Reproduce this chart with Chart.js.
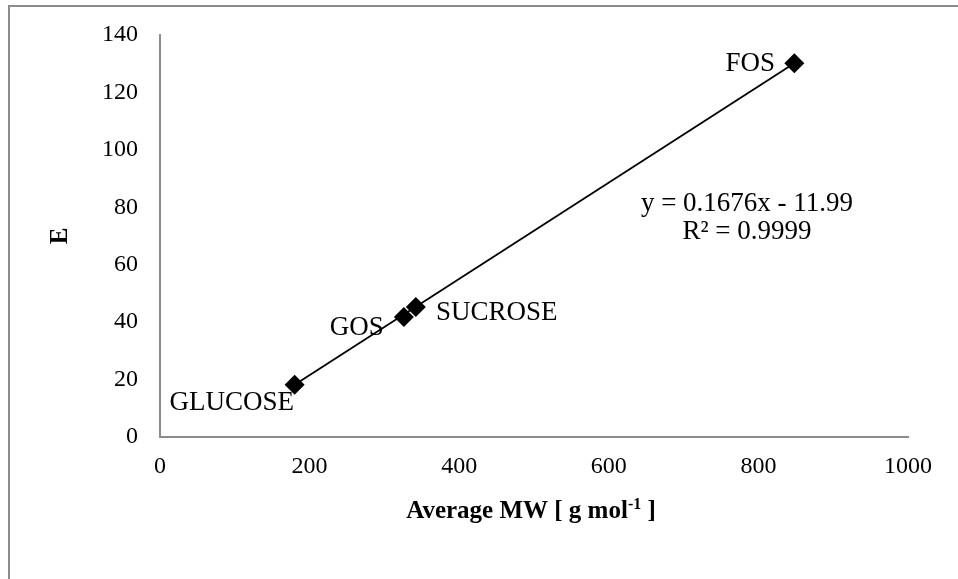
<!DOCTYPE html>
<html>
<head>
<meta charset="utf-8">
<script src="https://cdn.jsdelivr.net/npm/chart.js@4.4.1/dist/chart.umd.min.js"></script>
<style>
html,body{margin:0;padding:0;background:#fff;}
#wrap{width:958px;height:579px;position:relative;}
</style>
</head>
<body>
<div id="wrap"><canvas id="c" width="958" height="579"></canvas></div>
<script>
// ---- data ----
const sugars = ["GLUCOSE", "GOS", "SUCROSE", "FOS"];
const avgMW = [180, 326, 342, 848];
const eValues = [18.2, 41.8, 45.3, 130.2];
const trendSlope = 0.1676;
const trendIntercept = -11.99;
const trendText = ["y = 0.1676x - 11.99", "R\u00B2 = 0.9999"];
const xTicks = [0, 200, 400, 600, 800, 1000];
const yTicks = [0, 20, 40, 60, 80, 100, 120, 140];

const serif = "'Liberation Serif', 'Times New Roman', serif";
const points = avgMW.map((x, i) => ({x: x, y: eValues[i]}));
const xMin = Math.min(...avgMW), xMax = Math.max(...avgMW);
const trend = [xMin, xMax].map(x => ({x: x, y: trendSlope * x + trendIntercept}));

// label offsets (pixels) relative to point
const labelOffsets = {GLUCOSE: [-63, 18], GOS: [-47, 11], SUCROSE: [81, 6], FOS: [-44, 1]};

const overlay = {
  id: 'overlay',
  afterDraw(chart) {
    const ctx = chart.ctx;
    const xs = chart.scales.x, ys = chart.scales.y;
    ctx.save();
    // outer frame (top & left visible)
    ctx.strokeStyle = '#8c8c8c';
    ctx.lineWidth = 2;
    ctx.beginPath();
    ctx.moveTo(9, 580); ctx.lineTo(9, 6); ctx.lineTo(960, 6);
    ctx.stroke();
    // point labels
    ctx.fillStyle = '#000';
    ctx.font = "27px " + serif;
    ctx.textBaseline = 'middle';
    ctx.textAlign = 'center';
    sugars.forEach((s, i) => {
      const o = labelOffsets[s];
      ctx.fillText(s, xs.getPixelForValue(avgMW[i]) + o[0], ys.getPixelForValue(eValues[i]) + o[1]);
    });
    // equation
    ctx.fillText(trendText[0], 747, 204);
    ctx.fillText(trendText[1], 747, 232);
    // axis titles
    const big = "bold 25px " + serif, small = "bold 16px " + serif;
    const main = "Average MW [ g mol", sup = "-1", tail = " ]";
    ctx.font = big;
    const w1 = ctx.measureText(main).width;
    const w3 = ctx.measureText(tail).width;
    ctx.font = small;
    const w2 = ctx.measureText(sup).width;
    const cx = (xs.left + xs.right) / 2 - 3;
    let sx = cx - (w1 + w2 + w3) / 2;
    const ty = 518;
    ctx.textAlign = 'left';
    ctx.textBaseline = 'alphabetic';
    ctx.font = big;
    ctx.fillText(main, sx, ty);
    ctx.font = small;
    ctx.fillText(sup, sx + w1, ty - 9);
    ctx.font = big;
    ctx.fillText(tail, sx + w1 + w2, ty);
    // y title
    ctx.translate(61, (ys.top + ys.bottom) / 2);
    ctx.rotate(-Math.PI / 2);
    ctx.textAlign = 'center';
    ctx.textBaseline = 'middle';
    ctx.fillText("E", 0, 0);
    ctx.restore();
  }
};

new Chart(document.getElementById('c'), {
  type: 'scatter',
  data: {
    datasets: [
      {
        label: 'trend',
        data: trend,
        showLine: true,
        borderColor: '#000',
        borderWidth: 1.8,
        pointRadius: 0,
        order: 2
      },
      {
        label: 'E',
        data: points,
        pointStyle: 'rectRot',
        pointRadius: 10,
        backgroundColor: '#000',
        borderColor: '#000',
        borderWidth: 0,
        order: 1
      }
    ]
  },
  options: {
    responsive: false,
    animation: false,
    layout: {padding: {left: 10, right: 50, top: 35, bottom: 0}},
    plugins: {legend: {display: false}, tooltip: {enabled: false}},
    scales: {
      x: {
        type: 'linear', min: 0, max: 1000,
        afterBuildTicks(s) { s.ticks = xTicks.map(v => ({value: v})); },
        afterFit(s) { s.height = 142; },
        grid: {display: false, drawOnChartArea: false, drawTicks: true, tickLength: 7, tickColor: '#8c8c8c', tickWidth: 2},
        border: {color: '#8c8c8c', width: 2},
        ticks: {color: '#000', font: {family: serif, size: 24}, padding: 8, maxRotation: 0, callback: v => String(v)}
      },
      y: {
        type: 'linear', min: 0, max: 140,
        afterBuildTicks(s) { s.ticks = yTicks.map(v => ({value: v})); },
        afterFit(s) { s.width = 150; },
        grid: {display: false, drawOnChartArea: false, drawTicks: true, tickLength: 7, tickColor: '#8c8c8c', tickWidth: 2},
        border: {color: '#8c8c8c', width: 2},
        ticks: {color: '#000', font: {family: serif, size: 24}, padding: 15, callback: v => String(v)}
      }
    }
  },
  plugins: [overlay]
});
</script>
</body>
</html>
